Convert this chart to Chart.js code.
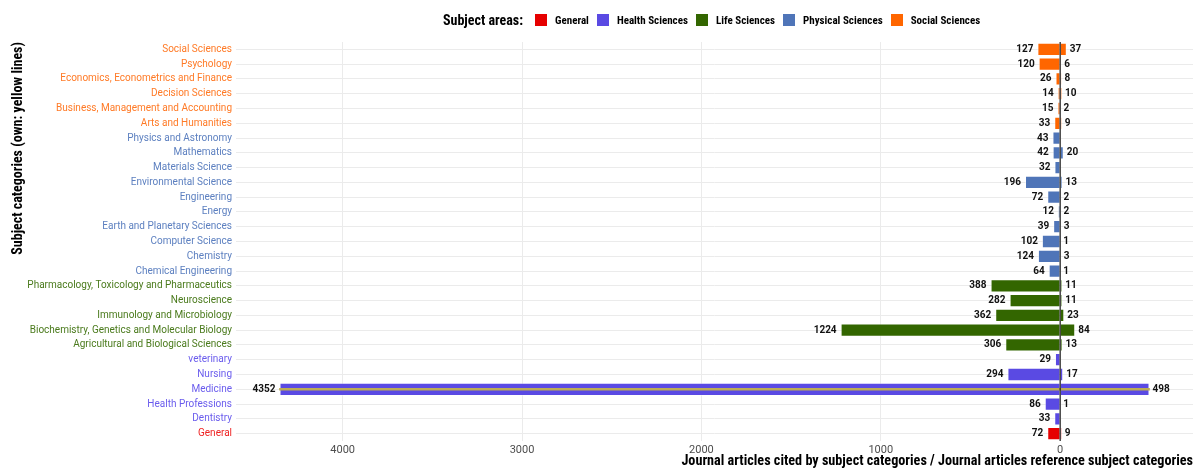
<!DOCTYPE html>
<html>
  <head>
    <meta charset="utf-8" />
    <title>Subject categories</title>
    <script src="https://cdn.jsdelivr.net/npm/chart.js"></script>
    <style>
      body { margin: 0; background: #fff; }
      #wrap { position: relative; width: 1200px; height: 468px; }
      #legend {
        position: absolute; top: 12px; left: 443px;
        display: flex; align-items: center;
        font-family: "Liberation Sans Narrow", "Roboto Condensed", "DejaVu Sans Condensed", Roboto, sans-serif;
        font-weight: bold; color: #000;
      }
      #legend .title { font-size: 14px; margin-right: 12px; }
      #legend .box { width: 12px; height: 12px; margin-right: 8px; }
      #legend .item { font-size: 11px; margin-right: 8px; }
    </style>
  </head>
  <body>
    <div id="wrap">
      <canvas id="myChart" width="1200" height="468"></canvas>
      <div id="legend"><span class="title">Subject areas:</span></div>
    </div>

    <script>
      // categories, top to bottom
      const categories = [
        "Social Sciences", "Psychology", "Economics, Econometrics and Finance",
        "Decision Sciences", "Business, Management and Accounting", "Arts and Humanities",
        "Physics and Astronomy", "Mathematics", "Materials Science", "Environmental Science",
        "Engineering", "Energy", "Earth and Planetary Sciences", "Computer Science",
        "Chemistry", "Chemical Engineering", "Pharmacology, Toxicology and Pharmaceutics",
        "Neuroscience", "Immunology and Microbiology", "Biochemistry, Genetics and Molecular Biology",
        "Agricultural and Biological Sciences", "veterinary", "Nursing", "Medicine",
        "Health Professions", "Dentistry", "General"
      ];
      const citedBy = [127, 120, 26, 14, 15, 33, 43, 42, 32, 196, 72, 12, 39, 102, 124, 64,
        388, 282, 362, 1224, 306, 29, 294, 4352, 86, 33, 72];
      const references = [37, 6, 8, 10, 2, 9, 0, 20, 0, 13, 2, 2, 3, 1, 3, 1,
        11, 11, 23, 84, 13, 0, 17, 498, 1, 0, 9];
      const areaOf = [
        "Social Sciences", "Social Sciences", "Social Sciences", "Social Sciences", "Social Sciences", "Social Sciences",
        "Physical Sciences", "Physical Sciences", "Physical Sciences", "Physical Sciences", "Physical Sciences",
        "Physical Sciences", "Physical Sciences", "Physical Sciences", "Physical Sciences", "Physical Sciences",
        "Life Sciences", "Life Sciences", "Life Sciences", "Life Sciences", "Life Sciences",
        "Health Sciences", "Health Sciences", "Health Sciences", "Health Sciences", "Health Sciences",
        "General"
      ];
      const areaNames = ["General", "Health Sciences", "Life Sciences", "Physical Sciences", "Social Sciences"];
      const ownCategories = ["Medicine"];
      const xTickValues = [-4000, -3000, -2000, -1000, 0];

      const areaColors = {
        "General": "#e60000",
        "Health Sciences": "#5a4ae3",
        "Life Sciences": "#336600",
        "Physical Sciences": "#4f75b8",
        "Social Sciences": "#ff6600",
      };
      const labelColors = {
        "General": "#ee2222",
        "Health Sciences": "#6a5ced",
        "Life Sciences": "#4a7a1c",
        "Physical Sciences": "#5d80c0",
        "Social Sciences": "#ff7a26",
      };
      const condensed = '"Liberation Sans Narrow", "Roboto Condensed", "DejaVu Sans Condensed", Roboto, sans-serif';

      // html legend
      const legend = document.getElementById("legend");
      areaNames.forEach(function (name) {
        const box = document.createElement("span");
        box.className = "box";
        box.style.background = areaColors[name];
        const txt = document.createElement("span");
        txt.className = "item";
        txt.textContent = name;
        legend.appendChild(box);
        legend.appendChild(txt);
      });

      const barColors = areaOf.map((a) => areaColors[a]);

      const valueLabels = {
        id: "valueLabels",
        afterDatasetsDraw(chart) {
          const ctx = chart.ctx;
          ctx.save();
          // zero line on top of the bars
          const x0 = chart.scales.x.getPixelForValue(0);
          ctx.strokeStyle = "rgba(10,10,10,0.85)";
          ctx.lineWidth = 1.3;
          ctx.beginPath();
          ctx.moveTo(x0, chart.chartArea.top);
          ctx.lineTo(x0, chart.chartArea.bottom);
          ctx.stroke();

          ctx.font = "bold 10px Roboto, sans-serif";
          ctx.fillStyle = "#111";
          ctx.textBaseline = "middle";
          const left = chart.getDatasetMeta(0).data;
          const right = chart.getDatasetMeta(1).data;
          left.forEach(function (el, i) {
            if (!citedBy[i]) return;
            ctx.textAlign = "right";
            ctx.fillText(citedBy[i], el.x - 4, el.y);
          });
          right.forEach(function (el, i) {
            if (!references[i]) return;
            ctx.textAlign = "left";
            ctx.fillText(references[i], el.x + 3, el.y);
          });
          ctx.restore();
        },
      };

      const data = {
        labels: categories,
        datasets: [
          {
            label: "Cited by",
            data: citedBy.map((v) => -v),
            backgroundColor: barColors,
            borderColor: "rgba(255,255,255,0.45)",
            borderWidth: 1,
            grouped: false,
            categoryPercentage: 0.9,
            barPercentage: 1,
          },
          {
            label: "References",
            data: references,
            backgroundColor: barColors,
            borderColor: "rgba(255,255,255,0.45)",
            borderWidth: 1,
            grouped: false,
            categoryPercentage: 0.9,
            barPercentage: 1,
          },
          {
            label: "Own",
            data: categories.map((c, i) =>
              ownCategories.includes(c) ? [-citedBy[i], references[i]] : null
            ),
            backgroundColor: "#bcab55",
            borderWidth: 0,
            grouped: false,
            barThickness: 2,
            order: -1,
          },
        ],
      };

      const config = {
        type: "bar",
        data: data,
        plugins: [valueLabels],
        options: {
          indexAxis: "y",
          responsive: false,
          animation: false,
          layout: { padding: { top: 42, right: 7, left: 0, bottom: 0 } },
          plugins: {
            legend: { display: false },
            tooltip: { enabled: false },
          },
          scales: {
            x: {
              min: -4594.5,
              max: 740.5,
              afterBuildTicks: function (scale) {
                scale.ticks = xTickValues.map((v) => ({ value: v }));
              },
              afterFit: function (scale) {
                scale.height = 27;
              },
              ticks: {
                callback: (v) => Math.abs(v),
                color: "#4d4d4d",
                font: { family: "Roboto", size: 11 },
                padding: 3,
              },
              grid: { color: "#ebebeb", drawTicks: false },
              border: { display: false },
              title: {
                display: true,
                text: "Journal articles cited by subject categories / Journal articles reference subject categories",
                align: "end",
                color: "#000",
                font: { family: condensed, size: 14.2, weight: "bold" },
                padding: { top: 0, bottom: -2 },
              },
            },
            y: {
              afterFit: function (scale) {
                scale.width = 236;
              },
              ticks: {
                color: (c) => labelColors[areaOf[c.index]],
                font: { family: "Roboto", size: 10 },
                padding: 4,
                autoSkip: false,
              },
              grid: { color: "#ebebeb", drawTicks: false, offset: false },
              border: { display: false },
              title: {
                display: true,
                text: "Subject categories (own: yellow lines)",
                align: "end",
                color: "#000",
                font: { family: condensed, size: 14, weight: "bold" },
                padding: { top: 10, bottom: 0 },
              },
            },
          },
        },
      };

      const myChart = new Chart(document.getElementById("myChart"), config);
    </script>
  </body>
</html>
